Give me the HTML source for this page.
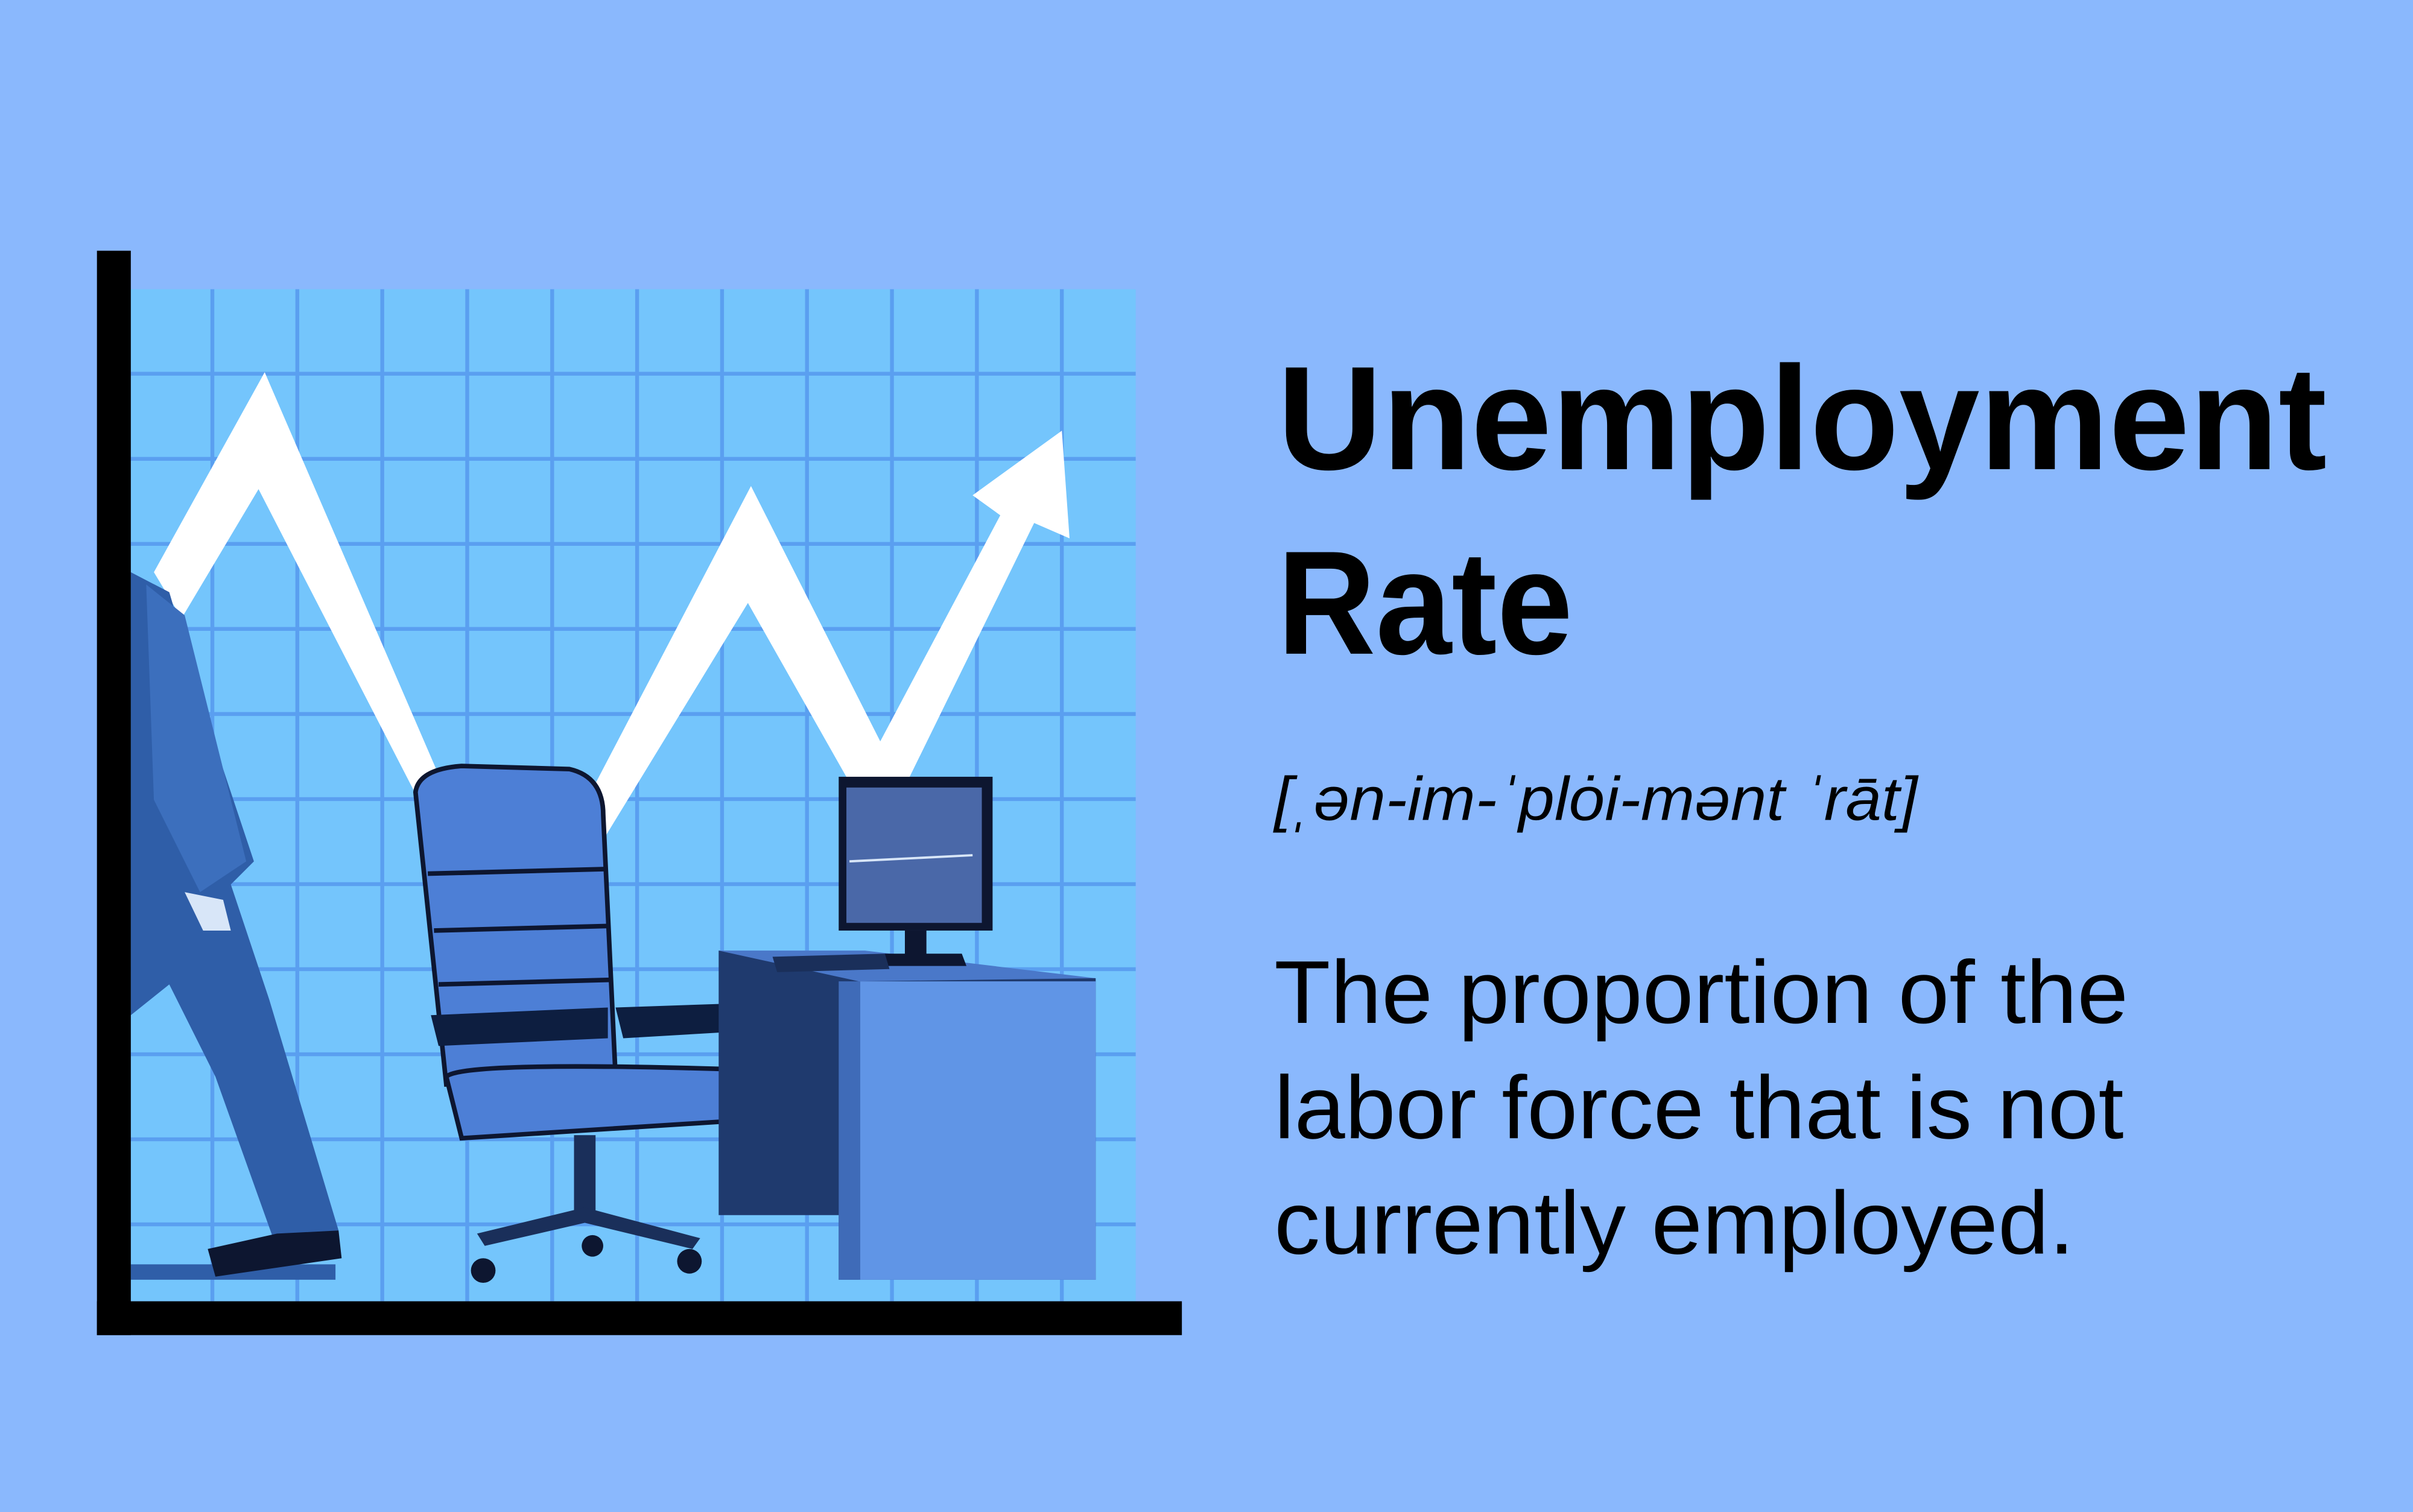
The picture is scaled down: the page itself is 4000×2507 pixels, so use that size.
<!DOCTYPE html>
<html><head><meta charset="utf-8"><style>
html,body{margin:0;padding:0;background:#8ab8fd;}
svg{display:block;}
</style></head><body>
<svg width="4000" height="2507" viewBox="0 0 1568 983" preserveAspectRatio="none" xmlns="http://www.w3.org/2000/svg">
<rect x="0" y="0" width="1568" height="983" fill="#8ab8fd"/>
<g>
<rect x="85" y="188" width="653" height="658" fill="#74c5fc"/>
<g stroke="#5a9ff0" stroke-width="2.5" id="grid"></g>
<path d="M100,372 L172,242 L286,506 L373,536 L488,316 L572,482 L650,335 L632,322 L690,280 L695,350 L672,340 L572,544 L486,392 L392,546 L272,520 L168,318 L118,402 Z" fill="#ffffff"/>
<g>
<path d="M85,372 L110,385 L135,470 L165,560 L150,575 L175,650 L220,800 L180,812 L140,700 L110,640 L85,660 Z" fill="#2f5ea8"/>
<path d="M95,380 L120,400 L145,500 L160,560 L130,580 L100,520 Z" fill="#3c6fbd"/>
<path d="M120,580 L145,585 L150,605 L132,605 Z" fill="#d8e6f8"/>
<path d="M85,822 L218,822 L218,832 L85,832 Z" fill="#2f5ea8"/>
<path d="M135,812 L180,802 L220,800 L222,818 L140,830 Z" fill="#0d1630"/>
</g>
<g>
<path d="M270,515 Q272,500 300,498 L370,500 Q392,505 392,530 L400,700 L290,705 Z" fill="#4d7fd6" stroke="#0d1630" stroke-width="3"/>
<line x1="278" y1="568" x2="394" y2="565" stroke="#0d1630" stroke-width="3"/>
<line x1="282" y1="605" x2="396" y2="602" stroke="#0d1630" stroke-width="3"/>
<line x1="285" y1="640" x2="398" y2="637" stroke="#0d1630" stroke-width="3"/>
<path d="M280,660 L395,655 L395,675 L285,680 Z" fill="#0d1e40"/>
<path d="M400,655 L488,652 L490,670 L405,675 Z" fill="#0d1e40"/>
<path d="M290,700 Q300,690 470,695 Q492,700 488,728 L300,740 Z" fill="#4d7fd6" stroke="#0d1630" stroke-width="3"/>
<rect x="373" y="738" width="14" height="50" fill="#1a2f5a"/>
<path d="M310,802 L380,785 L455,805 L450,812 L380,795 L315,810 Z" fill="#1a2f5a"/>
<circle cx="314" cy="826" r="8" fill="#0d1630"/>
<circle cx="448" cy="820" r="8" fill="#0d1630"/>
<circle cx="385" cy="810" r="7" fill="#0d1630"/>
</g>
<g>
<path d="M467,618 L712,636 L712,832 L545,832 L545,790 L467,790 Z" fill="#1f3a6e"/>
<path d="M467,618 L562,618 L712,636 L558,638 Z" fill="#4a78c9"/>
<rect x="558" y="638" width="154" height="194" fill="#6095e6"/>
<rect x="545" y="638" width="14" height="194" fill="#3f6bb8"/>
<rect x="545" y="505" width="100" height="100" fill="#0d1630"/>
<rect x="550" y="512" width="88" height="88" fill="#4a68a8"/>
<line x1="552" y1="560" x2="632" y2="556" stroke="#d8e6f8" stroke-width="1.5"/>
<rect x="588" y="605" width="14" height="18" fill="#0d1630"/>
<path d="M575,620 L625,620 L628,628 L572,628 Z" fill="#0d1630"/>
<path d="M502,622 L575,620 L578,630 L505,632 Z" fill="#1a2f5a"/>
</g>
<rect x="63" y="163" width="22" height="705" fill="#000"/>
<rect x="63" y="846" width="705" height="22" fill="#000"/>
</g>
<g font-family="'Liberation Sans', sans-serif" fill="#000">
<text x="830" y="305" font-size="96" font-weight="bold" textLength="682" lengthAdjust="spacingAndGlyphs">Unemployment</text>
<text x="830" y="425" font-size="96" font-weight="bold" textLength="192" lengthAdjust="spacingAndGlyphs">Rate</text>
<text x="828" y="533" font-size="40" font-style="italic" textLength="418" lengthAdjust="spacingAndGlyphs">[ˌən-im-ˈplȯi-mənt ˈrāt]</text>
<text x="828" y="665" font-size="58" textLength="555" lengthAdjust="spacingAndGlyphs">The proportion of the</text>
<text x="828" y="740" font-size="58" textLength="552" lengthAdjust="spacingAndGlyphs">labor force that is not</text>
<text x="828" y="815" font-size="58" textLength="520" lengthAdjust="spacingAndGlyphs">currently employed.</text>
</g>
</svg>
<script>
var g=document.getElementById('grid');
var ns='http://www.w3.org/2000/svg';
for(var x=138;x<738;x+=55.2){var l=document.createElementNS(ns,'line');


l.setAttribute('x1',x);l.setAttribute('x2',x);l.setAttribute('y1',188);l.setAttribute('y2',846);g.appendChild(l);}
for(var y=243;y<846;y+=55.3){var m=document.createElementNS(ns,'line');


m.setAttribute('x1',85);m.setAttribute('x2',738);m.setAttribute('y1',y);m.setAttribute('y2',y);g.appendChild(m);}
</script>
</body></html>
